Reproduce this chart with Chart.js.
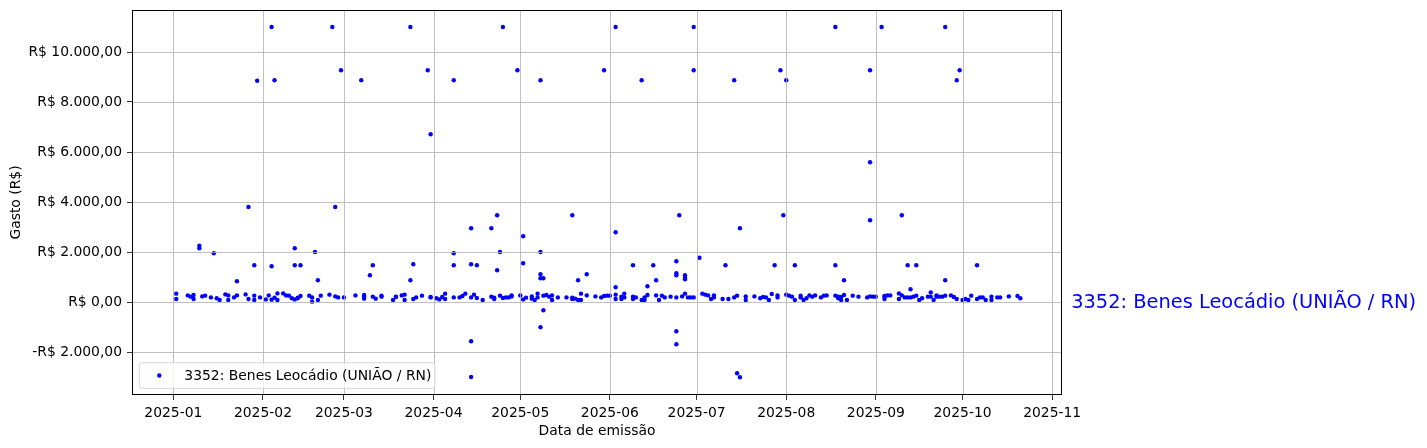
<!DOCTYPE html>
<html>
<head>
<meta charset="utf-8">
<script src="https://cdn.jsdelivr.net/npm/chart.js@4.4.0/dist/chart.umd.min.js"></script>
<style>
  html, body { margin: 0; padding: 0; background: #fff; }
</style>
</head>
<body>
<canvas id="chart" width="1427" height="448"></canvas>
<script>
var year = 2025;
var seriesLabel = '3352: Benes Leocádio (UNIÃO / RN)';

// data de emissão (MM-DD) e gasto (R$)
var emissionDates = [
  '01-02','01-02','01-06','01-07','01-08','01-08','01-10','01-10','01-11','01-12','01-14','01-15','01-16','01-17','01-19','01-20','01-20','01-22','01-23','01-23','01-26','01-27','01-27','01-29','01-29','01-29','01-30','01-31',
  '02-02','02-03','02-04','02-04','02-04','02-05','02-05','02-06','02-06','02-08','02-09','02-10','02-11','02-12','02-12','02-12','02-13','02-13','02-14','02-14','02-17','02-18','02-18','02-19','02-20','02-20','02-21','02-24','02-25','02-26','02-26','02-27','02-28',
  '03-01','03-05','03-07','03-08','03-08','03-08','03-10','03-11','03-11','03-12','03-14','03-14','03-18','03-19','03-19','03-21','03-22','03-22','03-24','03-24','03-25','03-25','03-26','03-28','03-30','03-31','03-31','03-31',
  '04-02','04-03','04-04','04-05','04-05','04-08','04-08','04-08','04-08','04-10','04-11','04-12','04-14','04-14','04-14','04-14','04-14','04-15','04-16','04-16','04-18','04-21','04-21','04-22','04-22','04-23','04-23','04-24','04-24','04-25','04-25','04-26','04-27','04-28','04-28','04-30',
  '05-01','05-02','05-02','05-02','05-03','05-05','05-05','05-06','05-07','05-07','05-08','05-08','05-08','05-08','05-08','05-09','05-09','05-09','05-10','05-11','05-12','05-12','05-14','05-17','05-19','05-19','05-19','05-20','05-21','05-21','05-22','05-22','05-24','05-24','05-27','05-29','05-30','05-30','05-31',
  '06-01','06-03','06-03','06-03','06-03','06-03','06-05','06-05','06-06','06-06','06-09','06-09','06-09','06-10','06-12','06-12','06-13','06-13','06-14','06-14','06-16','06-17','06-17','06-18','06-19','06-20','06-22','06-24','06-24','06-24','06-24','06-24','06-24','06-25','06-26','06-27','06-27','06-27','06-27','06-28','06-29','06-30','06-30','06-30',
  '07-02','07-03','07-04','07-05','07-06','07-07','07-07','07-10','07-11','07-12','07-14','07-14','07-15','07-15','07-16','07-16','07-18','07-18','07-21','07-23','07-24','07-25','07-26','07-27','07-28','07-29','07-29','07-30','07-31',
  '08-01','08-01','08-02','08-03','08-04','08-04','08-06','08-06','08-07','08-08','08-09','08-10','08-11','08-13','08-14','08-15','08-18','08-18','08-18','08-19','08-19','08-20','08-20','08-21','08-21','08-22','08-24','08-26','08-29','08-30','08-30','08-30','08-30','08-31',
  '09-01','09-03','09-04','09-04','09-04','09-05','09-06','09-09','09-09','09-10','09-10','09-11','09-12','09-12','09-13','09-13','09-14','09-15','09-15','09-16','09-17','09-19','09-20','09-20','09-21','09-22','09-22','09-23','09-24','09-25','09-25','09-25','09-27','09-28','09-29','09-29','09-30',
  '10-01','10-02','10-03','10-04','10-06','10-06','10-07','10-08','10-09','10-11','10-11','10-13','10-14','10-17','10-20','10-21'
];
var amounts = [
  335,120,265,215,120,280,2250,2150,225,255,185,1950,150,80,305,80,265,185,265,830,305,3800,120,255,80,1470,8850,185,
  105,265,95,11000,1430,175,8870,80,345,345,265,255,150,105,2150,1470,175,150,240,1470,255,15,185,2000,870,80,255,295,11000,225,3800,185,9270,
  185,265,8870,280,135,215,1070,1470,215,135,255,215,80,215,200,265,295,80,11000,870,1510,120,185,255,9270,6710,185,200,
  150,105,200,120,335,8870,1470,1950,185,185,240,335,185,2950,1510,-1570,-3000,295,160,1470,80,215,2950,120,175,3470,1270,255,2000,11000,160,185,185,225,265,9270,
  265,105,2630,1550,175,225,135,80,185,335,8870,1110,-1010,2000,950,950,-330,255,280,215,265,80,185,185,175,120,3470,135,80,870,80,335,265,1110,225,185,240,9270,255,
  255,11000,2790,590,295,120,120,215,335,185,215,120,1470,185,80,8870,80,185,280,630,1470,265,870,80,255,185,215,185,1630,1150,1070,-1170,-1690,3470,225,335,1070,980,910,185,185,185,11000,9270,
  1770,335,295,265,120,185,265,120,1470,120,185,8870,255,-2850,2950,-3010,225,80,225,150,200,185,80,320,1470,265,185,9270,3470,
  8870,295,255,215,80,1470,185,255,80,150,265,215,265,185,255,265,11000,1470,255,150,215,80,200,280,870,80,255,215,185,225,9270,5590,3270,215,
  215,11000,215,120,240,265,265,345,120,265,3470,185,185,1470,185,510,215,255,1470,80,150,215,385,215,80,265,215,215,215,255,11000,870,265,200,120,8870,9270,
  80,120,80,255,120,1470,185,185,80,80,215,185,185,225,240,150
];

var xTickMonths = ['2025-01','2025-02','2025-03','2025-04','2025-05','2025-06','2025-07','2025-08','2025-09','2025-10','2025-11'];
var yTickValues = [-2000, 0, 2000, 4000, 6000, 8000, 10000];

var DAY = 86400000;
var jan1 = Date.UTC(year, 0, 1);

// 'MM-DD' do ano corrente
function dayTime(s) {
  var p = s.split('-');
  return Date.UTC(year, parseInt(p[0], 10) - 1, parseInt(p[1], 10));
}
// 'YYYY-MM' -> primeiro dia do mês
function monthTime(s) {
  var p = s.split('-');
  return Date.UTC(parseInt(p[0], 10), parseInt(p[1], 10) - 1, 1);
}

function brl(v) {
  var parts = Math.abs(v).toFixed(2).split('.');
  var inteiro = parts[0].replace(/\B(?=(\d{3})+(?!\d))/g, '.');
  return (v < 0 ? '-' : '') + 'R$ ' + inteiro + ',' + parts[1];
}

var points = [];
for (var i = 0; i < emissionDates.length; i++) {
  points.push({x: dayTime(emissionDates[i]), y: amounts[i]});
}

var FONT = 'DejaVu Sans';
Chart.defaults.font.family = FONT;
Chart.defaults.color = '#000';

var overlay = {
  id: 'overlay',
  afterDatasetsDraw: function(chart) {
    var ctx = chart.ctx, a = chart.chartArea;
    var xs = chart.scales.x, ys = chart.scales.y;
    ctx.save();
    // grade por cima dos pontos
    ctx.strokeStyle = '#b0b0b0';
    ctx.lineWidth = 0.8;
    ctx.beginPath();
    xs.ticks.forEach(function(t) {
      var px = Math.round(xs.getPixelForValue(t.value)) + 0.5;
      ctx.moveTo(px, a.top); ctx.lineTo(px, a.bottom);
    });
    ys.ticks.forEach(function(t) {
      var py = Math.round(ys.getPixelForValue(t.value)) + 0.5;
      ctx.moveTo(a.left, py); ctx.lineTo(a.right, py);
    });
    ctx.stroke();

    // moldura
    ctx.strokeStyle = '#000';
    ctx.lineWidth = 1;
    ctx.strokeRect(a.left + 0.5, a.top + 0.5, a.right - a.left - 1, a.bottom - a.top - 1);

    // legenda
    var lx = a.left + 7.3, ly = a.bottom - 32.3, lw = 295.7, lh = 25.6, r = 3;
    ctx.beginPath();
    ctx.moveTo(lx + r, ly);
    ctx.lineTo(lx + lw - r, ly); ctx.quadraticCurveTo(lx + lw, ly, lx + lw, ly + r);
    ctx.lineTo(lx + lw, ly + lh - r); ctx.quadraticCurveTo(lx + lw, ly + lh, lx + lw - r, ly + lh);
    ctx.lineTo(lx + r, ly + lh); ctx.quadraticCurveTo(lx, ly + lh, lx, ly + lh - r);
    ctx.lineTo(lx, ly + r); ctx.quadraticCurveTo(lx, ly, lx + r, ly);
    ctx.closePath();
    ctx.fillStyle = 'rgba(255,255,255,0.8)';
    ctx.fill();
    ctx.strokeStyle = 'rgba(204,204,204,0.8)';
    ctx.stroke();
    ctx.fillStyle = '#0000ff';
    ctx.beginPath();
    ctx.arc(lx + 20, ly + lh / 2, 2.2, 0, Math.PI * 2);
    ctx.fill();
    ctx.fillStyle = '#000';
    ctx.font = '13.9px "' + FONT + '"';
    ctx.textBaseline = 'middle';
    ctx.textAlign = 'left';
    ctx.fillText(seriesLabel, lx + 45, ly + lh / 2 + 0.5);

    // rótulo à direita
    ctx.fillStyle = '#0000ff';
    ctx.font = '19.4px "' + FONT + '"';
    ctx.fillText(seriesLabel, a.right + 9.2, ys.getPixelForValue(0) + 1);
    ctx.restore();
  }
};

var config = {
  type: 'scatter',
  data: {
    datasets: [{
      label: seriesLabel,
      data: points,
      backgroundColor: '#0000ff',
      borderWidth: 0,
      pointRadius: 2.2,
      pointHoverRadius: 2.2
    }]
  },
  options: {
    responsive: false,
    animation: false,
    events: [],
    layout: {padding: {top: 10, right: 365, left: 0, bottom: 0}},
    plugins: {legend: {display: false}, tooltip: {enabled: false}},
    scales: {
      x: {
        type: 'linear',
        min: jan1 - 14.3 * DAY,
        max: jan1 + 307.4 * DAY,
        afterBuildTicks: function(scale) {
          scale.ticks = xTickMonths.map(function(m) { return {value: monthTime(m)}; });
        },
        afterFit: function(scale) {
          scale.height = 53;
          scale.paddingLeft = 0;
          scale.paddingRight = 0;
        },
        grid: {drawOnChartArea: false, drawTicks: true, tickLength: 5, tickColor: '#000', tickWidth: 0.8},
        border: {display: false},
        ticks: {
          autoSkip: false, maxRotation: 0, padding: 5,
          font: {size: 13.9},
          callback: function(v) {
            var d = new Date(v);
            var m = d.getUTCMonth() + 1;
            return d.getUTCFullYear() + '-' + (m < 10 ? '0' + m : m);
          }
        },
        title: {display: true, text: 'Data de emissão', font: {size: 13.9}, padding: {top: 0, bottom: 8}}
      },
      y: {
        min: -3720,
        max: 11680,
        afterBuildTicks: function(scale) {
          scale.ticks = yTickValues.map(function(v) { return {value: v}; });
        },
        afterFit: function(scale) {
          scale.width = 132;
          scale.paddingTop = 0;
          scale.paddingBottom = 0;
        },
        grid: {drawOnChartArea: false, drawTicks: true, tickLength: 5, tickColor: '#000', tickWidth: 0.8},
        border: {display: false},
        ticks: {
          padding: 5,
          font: {size: 13.9},
          callback: function(v) { return brl(v); }
        },
        title: {display: true, text: 'Gasto (R$)', font: {size: 13.9}, padding: {top: 8, bottom: 0}}
      }
    }
  },
  plugins: [overlay]
};

window.onload = function() {
  var ctx = document.getElementById('chart').getContext('2d');
  window.myScatter = new Chart(ctx, config);
};
</script>
</body>
</html>
